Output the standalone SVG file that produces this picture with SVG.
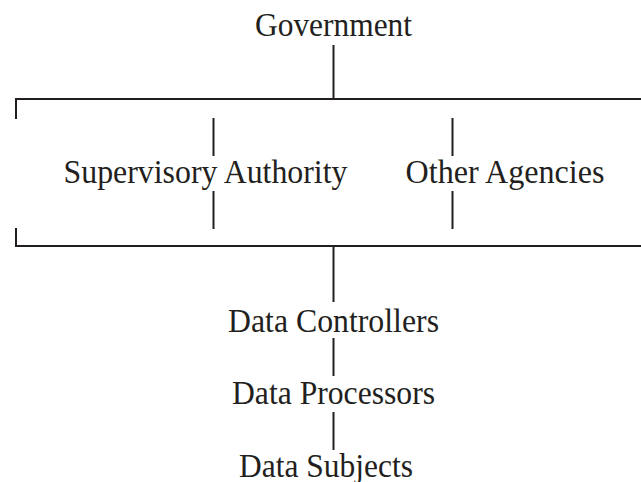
<svg xmlns="http://www.w3.org/2000/svg" width="641" height="482" viewBox="0 0 641 482">
  <style>
    .lbl { font-family: "Liberation Serif", "Times New Roman", serif; font-size: 33px; fill: #231f20; text-anchor: middle; }
    .ln { stroke: #231f20; stroke-width: 2; fill: none; }
  </style>
  <rect width="641" height="482" fill="#ffffff"/>
  <g id="connectors">
    <path class="ln" d="M333.5,45 V99"/>
    <path class="ln" d="M16,119 V99 H641"/>
    <path class="ln" d="M213.5,118 V156 M213.5,191 V229"/>
    <path class="ln" d="M452.5,118 V156 M452.5,191 V229"/>
    <path class="ln" d="M16,228 V246 H641"/>
    <path class="ln" d="M333.5,246 V302"/>
    <path class="ln" d="M333.5,338 V376"/>
    <path class="ln" d="M333.5,412 V450"/>
  </g>
  <g id="government"><text class="lbl" x="333.5" y="36" textLength="157" lengthAdjust="spacingAndGlyphs">Government</text></g>
  <g id="supervisory-authority"><text class="lbl" x="205.5" y="183" textLength="284" lengthAdjust="spacingAndGlyphs">Supervisory Authority</text></g>
  <g id="other-agencies"><text class="lbl" x="505" y="183" textLength="199" lengthAdjust="spacingAndGlyphs">Other Agencies</text></g>
  <g id="data-controllers"><text class="lbl" x="333.5" y="332" textLength="211" lengthAdjust="spacingAndGlyphs">Data Controllers</text></g>
  <g id="data-processors"><text class="lbl" x="333.5" y="404" textLength="203" lengthAdjust="spacingAndGlyphs">Data Processors</text></g>
  <g id="data-subjects"><text class="lbl" x="326" y="477" textLength="174" lengthAdjust="spacingAndGlyphs">Data Subjects</text></g>
</svg>
